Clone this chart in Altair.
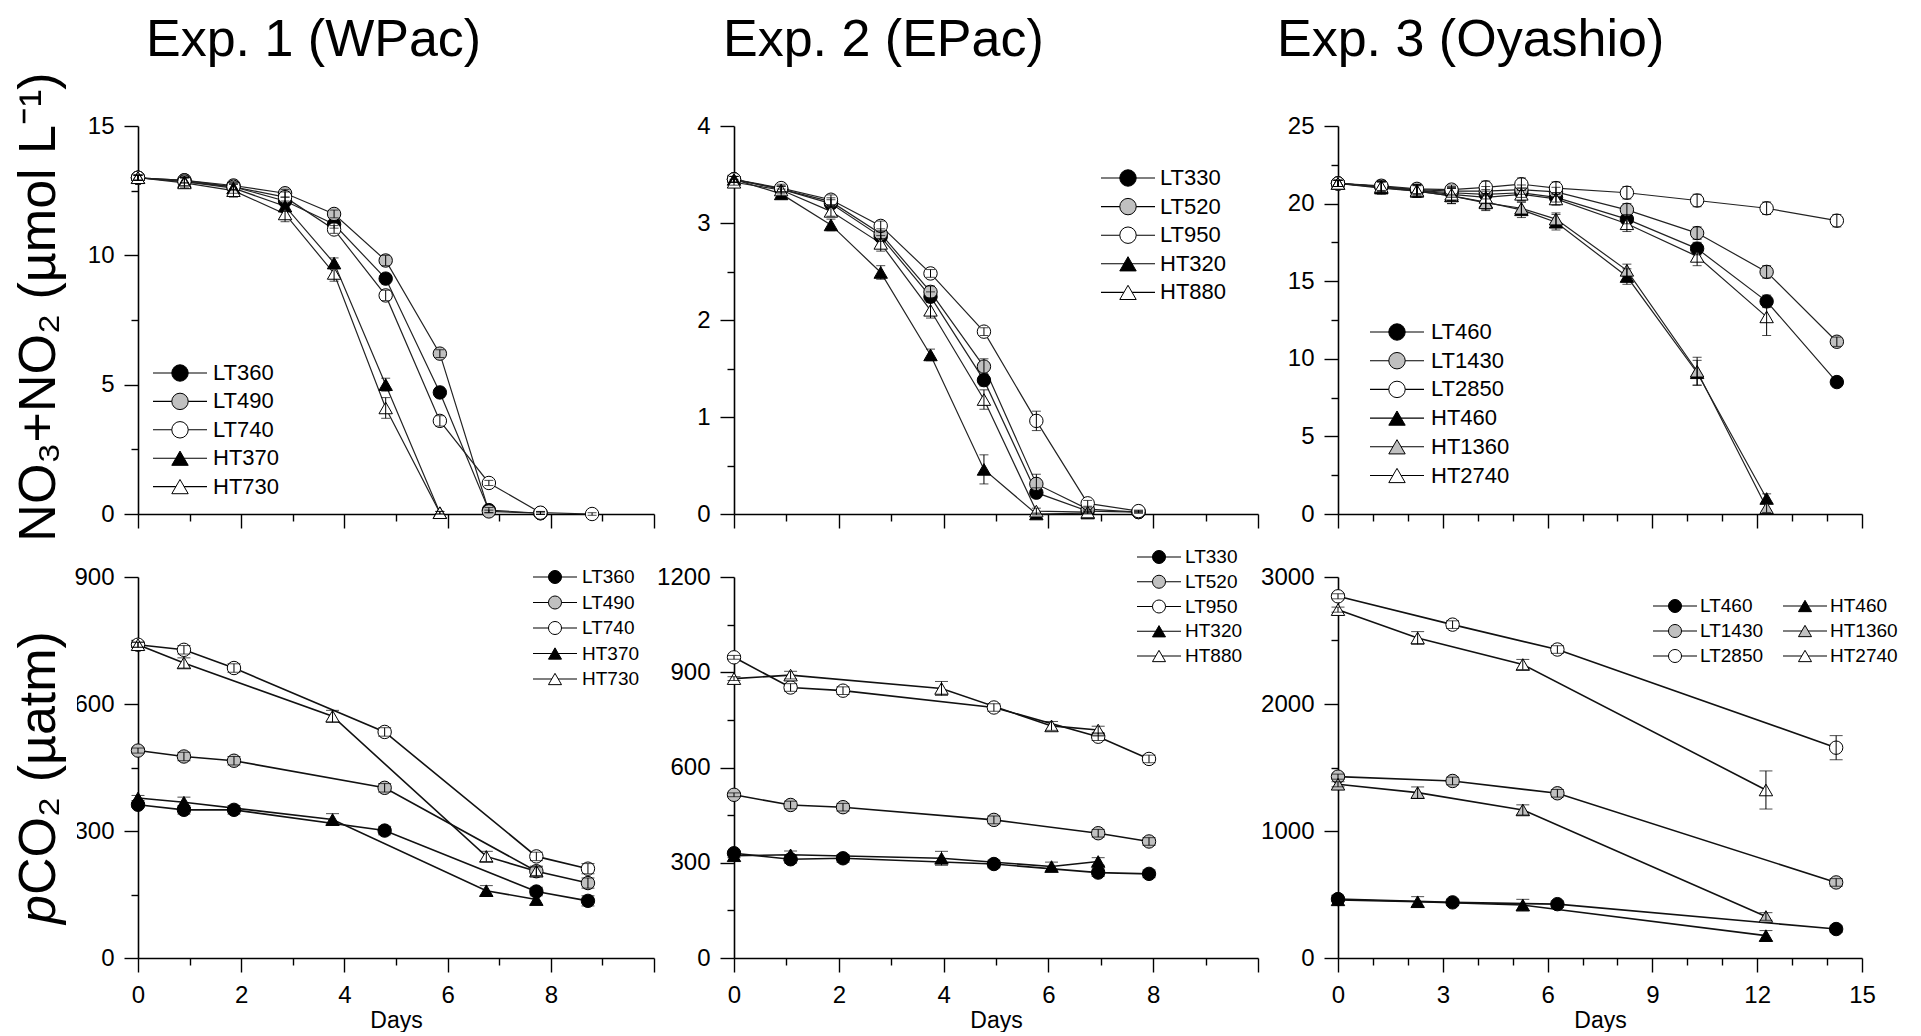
import altair as alt
import pandas as pd

FONT = "Liberation Sans, Arial, Helvetica, sans-serif"
BLACK, GREY, WHITE = "#000000", "#c0c0c0", "#ffffff"

# ---------------- text ----------------
exp_titles = ["Exp. 1 (WPac)", "Exp. 2 (EPac)", "Exp. 3 (Oyashio)"]
ytitle_top = "NO₃+NO₂ (µmol L⁻¹)"
ytitle_bot_p = "p"
ytitle_bot_rest = "CO₂ (µatm)"
xtitle = "Days"

# ---------------- Exp. 1 NO3+NO2 ----------------
e1n_days = [0, 0.9, 1.85, 2.85, 3.8, 4.8, 5.85, 6.8, 7.8, 8.8]
e1n_lt360 = [13.0, 12.9, 12.65, 12.1, 11.2, 9.1, 4.7, 0.15, 0.03]
e1n_lt490 = [13.0, 12.9, 12.7, 12.4, 11.6, 9.8, 6.2, 0.1, 0.03]
e1n_lt740 = [13.0, 12.85, 12.65, 12.25, 11.0, 8.45, 3.6, 1.2, 0.05, 0.0]
e1n_ht370 = [13.0, 12.85, 12.6, 11.9, 9.7, 5.0, 0.05]
e1n_ht730 = [13.0, 12.8, 12.5, 11.6, 9.3, 4.1, 0.05]
e1n_lt360_err = [0.1, 0.1, 0.1, 0.15, 0.15, 0.2, 0.2, 0.1, 0.05]
e1n_lt490_err = [0.1, 0.1, 0.15, 0.15, 0.15, 0.2, 0.15, 0.05, 0.05]
e1n_lt740_err = [0.1, 0.15, 0.15, 0.2, 0.15, 0.2, 0.2, 0.1, 0.05, 0.05]
e1n_ht370_err = [0.1, 0.2, 0.2, 0.2, 0.2, 0.25, 0.05]
e1n_ht730_err = [0.1, 0.2, 0.25, 0.3, 0.3, 0.4, 0.05]

# ---------------- Exp. 2 NO3+NO2 ----------------
e2n_days = [0, 0.9, 1.85, 2.8, 3.75, 4.77, 5.77, 6.75, 7.72]
e2n_lt330 = [3.45, 3.35, 3.2, 2.86, 2.24, 1.38, 0.22, 0.03, 0.02]
e2n_lt520 = [3.45, 3.35, 3.22, 2.89, 2.29, 1.52, 0.31, 0.05, 0.02]
e2n_lt950 = [3.45, 3.36, 3.24, 2.97, 2.48, 1.88, 0.96, 0.11, 0.03]
e2n_ht320 = [3.45, 3.3, 2.98, 2.49, 1.64, 0.46, 0.0, 0.01]
e2n_ht880 = [3.42, 3.34, 3.12, 2.79, 2.10, 1.18, 0.03, 0.02]
e2n_lt330_err = [0.03, 0.03, 0.04, 0.05, 0.05, 0.06, 0.05, 0.02, 0.01]
e2n_lt520_err = [0.03, 0.03, 0.04, 0.05, 0.06, 0.08, 0.1, 0.02, 0.01]
e2n_lt950_err = [0.03, 0.04, 0.05, 0.05, 0.04, 0.04, 0.1, 0.03, 0.01]
e2n_ht320_err = [0.03, 0.05, 0.06, 0.07, 0.06, 0.15, 0.01, 0.01]
e2n_ht880_err = [0.03, 0.04, 0.05, 0.08, 0.08, 0.1, 0.03, 0.01]

# ---------------- Exp. 3 NO3+NO2 ----------------
e3n_days = [0, 1.24, 2.26, 3.25, 4.23, 5.25, 6.24, 8.27, 10.28, 12.27, 14.28]
e3n_lt460 = [21.3, 21.1, 20.85, 20.7, 20.6, 20.7, 20.4, 19.0, 17.1, 13.7, 8.5]
e3n_lt1430 = [21.3, 21.1, 20.9, 20.8, 20.8, 20.9, 20.75, 19.6, 18.1, 15.6, 11.1]
e3n_lt2850 = [21.3, 21.15, 20.95, 20.9, 21.05, 21.25, 21.0, 20.7, 20.2, 19.7, 18.9]
e3n_ht460 = [21.3, 21.0, 20.8, 20.5, 20.1, 19.6, 18.8, 15.3, 9.1, 1.0]
e3n_ht1360 = [21.3, 21.05, 20.8, 20.5, 20.05, 19.7, 19.0, 15.7, 9.2, 0.4]
e3n_ht2740 = [21.3, 21.1, 20.85, 20.6, 20.4, 20.6, 20.3, 18.7, 16.6, 12.7]
e3n_lt460_err = [0.2, 0.3, 0.3, 0.3, 0.3, 0.3, 0.3, 0.3, 0.4, 0.4, 0.3]
e3n_lt1430_err = [0.2, 0.3, 0.3, 0.3, 0.3, 0.3, 0.3, 0.4, 0.4, 0.4, 0.3]
e3n_lt2850_err = [0.2, 0.3, 0.3, 0.3, 0.4, 0.4, 0.4, 0.4, 0.4, 0.4, 0.4]
e3n_ht460_err = [0.2, 0.4, 0.4, 0.5, 0.5, 0.5, 0.5, 0.5, 0.8, 0.3]
e3n_ht1360_err = [0.2, 0.4, 0.4, 0.5, 0.5, 0.4, 0.4, 0.4, 0.9, 0.3]
e3n_ht2740_err = [0.2, 0.4, 0.4, 0.4, 0.4, 0.4, 0.4, 0.5, 0.6, 1.2]

# ---------------- Exp. 1 pCO2 ----------------
e1c_lt_days = [0, 0.89, 1.86, 4.78, 7.72, 8.72]
e1c_ht_days = [0, 0.89, 3.77, 6.75, 7.72]
e1c_lt360 = [362, 350, 350, 301, 157, 135]
e1c_lt490 = [490, 476, 466, 402, 205, 177]
e1c_lt740 = [740, 728, 685, 534, 240, 211]
e1c_ht370 = [378, 368, 327, 159, 138]
e1c_ht730 = [740, 697, 571, 240, 205]
e1c_lt_err = [6, 10, 10, 10, 10, 12]
e1c_ht_err = [6, 12, 14, 12, 12]

# ---------------- Exp. 2 pCO2 ----------------
e2c_lt_days = [0, 1.08, 2.08, 4.96, 6.95, 7.92]
e2c_ht_days = [0, 1.08, 3.96, 6.06, 6.95]
e2c_lt330 = [330, 311, 314, 296, 269, 265]
e2c_lt520 = [514, 482, 475, 435, 393, 367]
e2c_lt950 = [947, 852, 842, 789, 697, 627]
e2c_ht320 = [322, 325, 314, 288, 304]
e2c_ht880 = [880, 891, 849, 731, 718]
e2c_lt_err = [6, 12, 12, 12, 12, 12]
e2c_ht_err = [6, 12, 22, 14, 12]

# ---------------- Exp. 3 pCO2 ----------------
e3c_lt_days = [0, 3.28, 6.28, 14.26]
e3c_ht_days = [0, 2.28, 5.29, 12.25]
e3c_lt460 = [464, 438, 424, 228]
e3c_lt1430 = [1428, 1394, 1297, 595]
e3c_lt2850 = [2848, 2625, 2429, 1656]
e3c_ht460 = [458, 443, 417, 176]
e3c_ht1360 = [1368, 1302, 1166, 327]
e3c_ht2740 = [2743, 2520, 2311, 1323]
e3c_lt460_err = [15, 25, 25, 25]
e3c_lt1430_err = [20, 30, 30, 30]
e3c_lt2850_err = [20, 30, 30, 95]
e3c_ht460_err = [15, 40, 45, 40]
e3c_ht1360_err = [20, 45, 40, 30]
e3c_ht2740_err = [20, 50, 40, 150]

AX = dict(domainColor="black", domainWidth=1.6, tickColor="black", tickWidth=1.4,
          labelColor="black", labelFont=FONT, labelFontSize=24, grid=False, zindex=0,
          format="d")


def text_layer(txt, x, y, size, angle=0, align="left", baseline="alphabetic", style="normal"):
    return alt.Chart(pd.DataFrame({"t": [txt]})).mark_text(
        align=align, baseline=baseline, angle=angle, fontSize=size, font=FONT,
        fontStyle=style, color="black"
    ).encode(x=alt.value(x), y=alt.value(y), text="t:N")


def legend_layers(order, shapes, fills, leg):
    cols = leg["cols"]
    ldf = pd.DataFrame({"series": order,
                        "row": [i // cols for i in range(len(order))],
                        "col": [i % cols for i in range(len(order))]})
    lx = alt.Scale(domain=[0, 1], range=[leg["x0"], leg["x0"] + leg["dx"]])
    ly = alt.Scale(domain=[0, 1], range=[leg["y0"], leg["y0"] + leg["dy"]])
    enc = dict(x=alt.X("col:Q", scale=lx, axis=None), y=alt.Y("row:Q", scale=ly, axis=None))
    b = alt.Chart(ldf)
    seg = b.mark_tick(orient="horizontal", size=leg["len"], thickness=1.1, color="black",
                      opacity=1).encode(**enc)
    sym = b.mark_point(filled=True, opacity=1, stroke="black", strokeWidth=1,
                       size=leg["msize"]).encode(
        **enc,
        shape=alt.Shape("series:N", scale=alt.Scale(domain=order, range=[shapes[n] for n in order]),
                        legend=None),
        fill=alt.Fill("series:N", scale=alt.Scale(domain=order, range=[fills[n] for n in order]),
                      legend=None))
    lab = b.mark_text(align="left", baseline="middle", dx=leg["dxt"], fontSize=leg["fs"],
                      font=FONT, color="black").encode(**enc, text="series:N")
    return [seg, sym, lab]


def panel(series, width, height, xdom, xmaj, xminr, xlab, ydom, ymaj, yminr,
          bottom, leg, line_color, line_w, cap, msize, extras):
    rows = []
    for name, days, vals, errs, shp, fil in series:
        for d, v, e in zip(days, vals, errs):
            rows.append({"series": name, "day": d, "val": v, "lo": v - e, "hi": v + e})
    df = pd.DataFrame(rows)
    names = [s[0] for s in series]
    shapes = {s[0]: s[4] for s in series}
    fills = {s[0]: s[5] for s in series}
    xs = alt.Scale(domain=xdom, nice=False, zero=False)
    ys = alt.Scale(domain=ydom, nice=False, zero=False)

    xkw = dict(AX, values=xmaj, tickSize=14, labelPadding=11, labelFlush=False,
               labelOverlap=False, labels=bottom, orient="bottom",
               labelExpr=f"indexof({xlab}, datum.value) >= 0 ? datum.label : ''")
    if bottom:
        xkw.update(title=xtitle, titleFont=FONT, titleFontSize=23, titleFontWeight="normal",
                   titleColor="black", titleY=69, titleBaseline="alphabetic")
    else:
        xkw.update(title=None)
    x_major = alt.Axis(**xkw)
    y_major = alt.Axis(**AX, values=ymaj, tickSize=14, labelPadding=10, labelOverlap=False,
                       orient="left", title=None)
    x_minor = alt.Axis(**AX, values=xminr, tickSize=7, labels=False, domain=False,
                       orient="bottom", title=None)
    y_minor = alt.Axis(**AX, values=yminr, tickSize=7, labels=False, domain=False,
                       orient="left", title=None)

    base = alt.Chart(df)
    minor = base.mark_point(opacity=0).encode(
        x=alt.X("day:Q", scale=xs, axis=x_minor),
        y=alt.Y("val:Q", scale=ys, axis=y_minor))
    lines = base.mark_line(color=line_color, strokeWidth=line_w).encode(
        x=alt.X("day:Q", scale=xs, axis=x_major),
        y=alt.Y("val:Q", scale=ys, axis=y_major),
        detail="series:N")
    points = base.mark_point(filled=True, opacity=1, stroke="black", strokeWidth=1,
                             size=msize).encode(
        x=alt.X("day:Q", scale=xs, axis=None),
        y=alt.Y("val:Q", scale=ys, axis=None),
        shape=alt.Shape("series:N", scale=alt.Scale(domain=names, range=[shapes[n] for n in names]),
                        legend=None),
        fill=alt.Fill("series:N", scale=alt.Scale(domain=names, range=[fills[n] for n in names]),
                      legend=None))
    errs = base.mark_errorbar(ticks={"size": cap, "thickness": 1}, color="black",
                              thickness=1).encode(
        x=alt.X("day:Q", scale=xs, axis=None),
        y=alt.Y("lo:Q", scale=ys, axis=None),
        y2="hi:Q")

    layers = [minor, lines, points, errs] + legend_layers(leg["order"], shapes, fills, leg) + extras
    return alt.layer(*layers).resolve_scale(
        x="independent", y="independent", fill="independent", shape="independent"
    ).properties(width=width, height=height)


W1, W2, W3 = 516, 524, 524
HT, HB = 388, 381
X10_MAJ, X10_MIN, X10_LAB = [0, 2, 4, 6, 8, 10], [1, 3, 5, 7, 9], [0, 2, 4, 6, 8]
X15_MAJ, X15_MIN = [0, 3, 6, 9, 12, 15], [1, 2, 4, 5, 7, 8, 10, 11, 13, 14]
X15_LAB = [0, 3, 6, 9, 12, 15]

TOPLEG = dict(len=54, msize=270, fs=22, cols=1, dx=100)
BOTLEG = dict(len=44, msize=170, fs=19, cols=1, dx=100)

TITLE_FS = 52
TITLE_Y = -70
TOP_LINE = "#222222"

# invisible spacer so the big titles stay inside the drawing at the top edge
top_spacer = alt.Chart(pd.DataFrame({"a": [0]})).mark_rect(opacity=0).encode(
    x=alt.value(0), x2=alt.value(1), y=alt.value(-118), y2=alt.value(-117))

p1 = panel(
    [("LT360", e1n_days, e1n_lt360, e1n_lt360_err, "circle", BLACK),
     ("LT490", e1n_days, e1n_lt490, e1n_lt490_err, "circle", GREY),
     ("LT740", e1n_days, e1n_lt740, e1n_lt740_err, "circle", WHITE),
     ("HT370", e1n_days, e1n_ht370, e1n_ht370_err, "triangle-up", BLACK),
     ("HT730", e1n_days, e1n_ht730, e1n_ht730_err, "triangle-up", WHITE)],
    W1, HT, [0, 10], X10_MAJ, X10_MIN, X10_LAB, [0, 15], [0, 5, 10, 15], [2.5, 7.5, 12.5],
    False, dict(TOPLEG, x0=42, y0=247, dy=28.4, dxt=33,
                order=["LT360", "LT490", "LT740", "HT370", "HT730"]),
    TOP_LINE, 1.2, 9, 180,
    [top_spacer,
     text_layer(exp_titles[0], 8, TITLE_Y, TITLE_FS),
     text_layer(ytitle_top, -83, 181, 52, angle=270, align="center")])

p2 = panel(
    [("LT330", e2n_days, e2n_lt330, e2n_lt330_err, "circle", BLACK),
     ("LT520", e2n_days, e2n_lt520, e2n_lt520_err, "circle", GREY),
     ("LT950", e2n_days, e2n_lt950, e2n_lt950_err, "circle", WHITE),
     ("HT320", e2n_days, e2n_ht320, e2n_ht320_err, "triangle-up", BLACK),
     ("HT880", e2n_days, e2n_ht880, e2n_ht880_err, "triangle-up", WHITE)],
    W2, HT, [0, 10], X10_MAJ, X10_MIN, X10_LAB, [0, 4], [0, 1, 2, 3, 4], [0.5, 1.5, 2.5, 3.5],
    False, dict(TOPLEG, x0=394, y0=52, dy=28.6, dxt=32,
                order=["LT330", "LT520", "LT950", "HT320", "HT880"]),
    TOP_LINE, 1.2, 9, 180,
    [text_layer(exp_titles[1], -11, TITLE_Y, TITLE_FS)])

p3 = panel(
    [("LT460", e3n_days, e3n_lt460, e3n_lt460_err, "circle", BLACK),
     ("LT1430", e3n_days, e3n_lt1430, e3n_lt1430_err, "circle", GREY),
     ("LT2850", e3n_days, e3n_lt2850, e3n_lt2850_err, "circle", WHITE),
     ("HT460", e3n_days, e3n_ht460, e3n_ht460_err, "triangle-up", BLACK),
     ("HT1360", e3n_days, e3n_ht1360, e3n_ht1360_err, "triangle-up", GREY),
     ("HT2740", e3n_days, e3n_ht2740, e3n_ht2740_err, "triangle-up", WHITE)],
    W3, HT, [0, 15], X15_MAJ, X15_MIN, X15_LAB, [0, 25], [0, 5, 10, 15, 20, 25],
    [2.5, 7.5, 12.5, 17.5, 22.5],
    False, dict(TOPLEG, x0=59, y0=206, dy=28.7, dxt=34,
                order=["LT460", "LT1430", "LT2850", "HT460", "HT1360", "HT2740"]),
    TOP_LINE, 1.2, 9, 180,
    [text_layer(exp_titles[2], -61, TITLE_Y, TITLE_FS)])

white_box = alt.Chart(pd.DataFrame({"a": [0]})).mark_rect(color="white").encode(
    x=alt.value(-126), x2=alt.value(-61), y=alt.value(50), y2=alt.value(352))

p4 = panel(
    [("LT360", e1c_lt_days, e1c_lt360, e1c_lt_err, "circle", BLACK),
     ("LT490", e1c_lt_days, e1c_lt490, e1c_lt_err, "circle", GREY),
     ("LT740", e1c_lt_days, e1c_lt740, e1c_lt_err, "circle", WHITE),
     ("HT370", e1c_ht_days, e1c_ht370, e1c_ht_err, "triangle-up", BLACK),
     ("HT730", e1c_ht_days, e1c_ht730, e1c_ht_err, "triangle-up", WHITE)],
    W1, HB, [0, 10], X10_MAJ, X10_MIN, X10_LAB, [0, 900], [0, 300, 600, 900], [150, 450, 750],
    True, dict(BOTLEG, x0=417, y0=0, dy=25.5, dxt=27,
               order=["LT360", "LT490", "LT740", "HT370", "HT730"]),
    "#111111", 1.6, 13, 180,
    [white_box,
     text_layer(ytitle_bot_p, -83, 347, 52, angle=270, align="left", style="italic"),
     text_layer(ytitle_bot_rest, -83, 318, 52, angle=270, align="left")])

p5 = panel(
    [("LT330", e2c_lt_days, e2c_lt330, e2c_lt_err, "circle", BLACK),
     ("LT520", e2c_lt_days, e2c_lt520, e2c_lt_err, "circle", GREY),
     ("LT950", e2c_lt_days, e2c_lt950, e2c_lt_err, "circle", WHITE),
     ("HT320", e2c_ht_days, e2c_ht320, e2c_ht_err, "triangle-up", BLACK),
     ("HT880", e2c_ht_days, e2c_ht880, e2c_ht_err, "triangle-up", WHITE)],
    W2, HB, [0, 10], X10_MAJ, X10_MIN, X10_LAB, [0, 1200], [0, 300, 600, 900, 1200],
    [150, 450, 750, 1050],
    True, dict(BOTLEG, x0=425, y0=-20, dy=24.75, dxt=26,
               order=["LT330", "LT520", "LT950", "HT320", "HT880"]),
    "#111111", 1.6, 13, 180, [])

p6 = panel(
    [("LT460", e3c_lt_days, e3c_lt460, e3c_lt460_err, "circle", BLACK),
     ("LT1430", e3c_lt_days, e3c_lt1430, e3c_lt1430_err, "circle", GREY),
     ("LT2850", e3c_lt_days, e3c_lt2850, e3c_lt2850_err, "circle", WHITE),
     ("HT460", e3c_ht_days, e3c_ht460, e3c_ht460_err, "triangle-up", BLACK),
     ("HT1360", e3c_ht_days, e3c_ht1360, e3c_ht1360_err, "triangle-up", GREY),
     ("HT2740", e3c_ht_days, e3c_ht2740, e3c_ht2740_err, "triangle-up", WHITE)],
    W3, HB, [0, 15], X15_MAJ, X15_MIN, X15_LAB, [0, 3000], [0, 1000, 2000, 3000],
    [500, 1500, 2500],
    True, dict(BOTLEG, x0=337, y0=29, dy=25, dxt=25, cols=2, dx=130,
               order=["LT460", "HT460", "LT1430", "HT1360", "LT2850", "HT2740"]),
    "#111111", 1.6, 13, 180, [])

chart = alt.concat(
    p1, p2, p3, p4, p5, p6, columns=3, spacing={"row": 63, "column": 80}, bounds="flush"
).resolve_scale(
    fill="independent", shape="independent"
).properties(
    padding={"left": 4, "top": 0, "right": 5, "bottom": 0}, background="white"
).configure_view(stroke=None)

chart.save("out.html", embed_options={"renderer": "svg", "actions": False})
